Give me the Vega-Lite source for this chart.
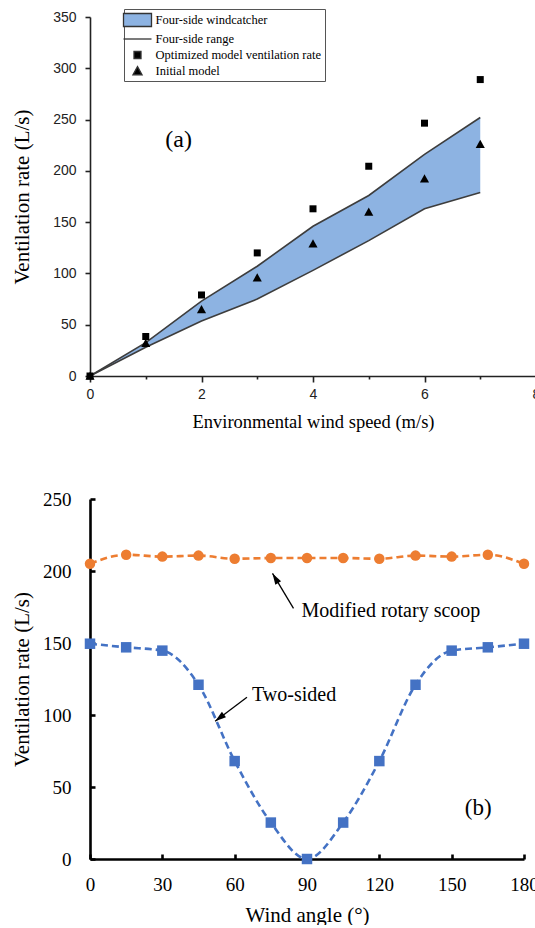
{
  "$schema": "https://vega.github.io/schema/vega-lite/v6.json",
  "background": "white",
  "padding": {"left": 11, "top": 8, "right": 0, "bottom": 0},
  "spacing": 59,
  "resolve": {"scale": {"color": "independent", "shape": "independent"}, "legend": {"color": "independent", "shape": "independent"}},
  "config": {
    "view": {"stroke": null},
    "axis": {"grid": false, "titleFontWeight": "normal", "titleColor": "black", "labelFlush": false, "labelOverlap": false}
  },
  "datasets": {
    "range": [
      {"speed": 0, "lo": 0, "hi": 0},
      {"speed": 1, "lo": 28, "hi": 32.5},
      {"speed": 2, "lo": 53.6, "hi": 73},
      {"speed": 3, "lo": 75, "hi": 107},
      {"speed": 4, "lo": 103, "hi": 146},
      {"speed": 5, "lo": 132, "hi": 176},
      {"speed": 6, "lo": 163, "hi": 216},
      {"speed": 7, "lo": 179, "hi": 252}
    ],
    "pts": [
      {"speed": 0, "value": 0, "series": "Optimized model ventilation rate"},
      {"speed": 1, "value": 38.5, "series": "Optimized model ventilation rate"},
      {"speed": 2, "value": 79, "series": "Optimized model ventilation rate"},
      {"speed": 3, "value": 120, "series": "Optimized model ventilation rate"},
      {"speed": 4, "value": 163, "series": "Optimized model ventilation rate"},
      {"speed": 5, "value": 204.5, "series": "Optimized model ventilation rate"},
      {"speed": 6, "value": 246.5, "series": "Optimized model ventilation rate"},
      {"speed": 7, "value": 289, "series": "Optimized model ventilation rate"},
      {"speed": 0, "value": 0, "series": "Initial model"},
      {"speed": 1, "value": 32, "series": "Initial model"},
      {"speed": 2, "value": 65, "series": "Initial model"},
      {"speed": 3, "value": 96, "series": "Initial model"},
      {"speed": 4, "value": 129, "series": "Initial model"},
      {"speed": 5, "value": 160, "series": "Initial model"},
      {"speed": 6, "value": 192.5, "series": "Initial model"},
      {"speed": 7, "value": 226, "series": "Initial model"}
    ],
    "angles": [
      {"angle": 0, "rate": 205, "series": "Modified rotary scoop"},
      {"angle": 15, "rate": 211.3, "series": "Modified rotary scoop"},
      {"angle": 30, "rate": 210, "series": "Modified rotary scoop"},
      {"angle": 45, "rate": 210.7, "series": "Modified rotary scoop"},
      {"angle": 60, "rate": 208.5, "series": "Modified rotary scoop"},
      {"angle": 75, "rate": 209, "series": "Modified rotary scoop"},
      {"angle": 90, "rate": 209, "series": "Modified rotary scoop"},
      {"angle": 105, "rate": 209, "series": "Modified rotary scoop"},
      {"angle": 120, "rate": 208.5, "series": "Modified rotary scoop"},
      {"angle": 135, "rate": 210.7, "series": "Modified rotary scoop"},
      {"angle": 150, "rate": 210, "series": "Modified rotary scoop"},
      {"angle": 165, "rate": 211.3, "series": "Modified rotary scoop"},
      {"angle": 180, "rate": 205, "series": "Modified rotary scoop"},
      {"angle": 0, "rate": 149.5, "series": "Two-sided"},
      {"angle": 15, "rate": 147, "series": "Two-sided"},
      {"angle": 30, "rate": 144.7, "series": "Two-sided"},
      {"angle": 45, "rate": 121, "series": "Two-sided"},
      {"angle": 60, "rate": 68, "series": "Two-sided"},
      {"angle": 75, "rate": 25.3, "series": "Two-sided"},
      {"angle": 90, "rate": 0, "series": "Two-sided"},
      {"angle": 105, "rate": 25.3, "series": "Two-sided"},
      {"angle": 120, "rate": 68, "series": "Two-sided"},
      {"angle": 135, "rate": 121, "series": "Two-sided"},
      {"angle": 150, "rate": 144.7, "series": "Two-sided"},
      {"angle": 165, "rate": 147, "series": "Two-sided"},
      {"angle": 180, "rate": 149.5, "series": "Two-sided"}
    ]
  },
  "vconcat": [
    {
      "width": 446,
      "height": 359,
      "layer": [
        {
          "data": {"name": "range"},
          "mark": {"type": "area", "color": "#8DB3E2", "opacity": 1},
          "encoding": {
            "x": {
              "field": "speed", "type": "quantitative",
              "scale": {"domain": [0, 8], "nice": false},
              "axis": {
                "title": "Environmental wind speed (m/s)",
                "titleFont": "Liberation Serif", "titleFontSize": 18.5, "titlePadding": 11,
                "values": [0, 1, 2, 3, 4, 5, 6, 7, 8], "format": "d",
                "labelExpr": "datum.value % 2 === 0 ? datum.label : ''",
                "labelFont": "Liberation Sans", "labelFontSize": 14, "labelColor": "#222", "labelPadding": 5,
                "domainColor": "#222", "domainWidth": 1.6,
                "tickColor": "#222", "tickWidth": 1.6,
                "tickSize": {"condition": {"test": "datum.value % 2 === 1", "value": 3}, "value": 6}
              }
            },
            "y": {
              "field": "lo", "type": "quantitative",
              "scale": {"domain": [0, 350], "nice": false},
              "axis": {
                "title": "Ventilation rate (L/s)",
                "titleFont": "Liberation Serif", "titleFontSize": 21, "titlePadding": 20,
                "values": [0, 25, 50, 75, 100, 125, 150, 175, 200, 225, 250, 275, 300, 325, 350], "format": "d",
                "labelExpr": "datum.value % 50 === 0 ? datum.label : ''",
                "labelFont": "Liberation Sans", "labelFontSize": 14, "labelColor": "#222", "labelPadding": 9,
                "domainColor": "#222", "domainWidth": 1.6,
                "tickColor": "#222", "tickWidth": 1.6,
                "tickSize": {"condition": {"test": "datum.value % 50 !== 0", "value": 3}, "value": 5}
              }
            },
            "y2": {"field": "hi"}
          }
        },
        {
          "data": {"name": "range"},
          "mark": {"type": "line", "color": "#3d3d3d", "strokeWidth": 1.6},
          "encoding": {
            "x": {"field": "speed", "type": "quantitative"},
            "y": {"field": "hi", "type": "quantitative"}
          }
        },
        {
          "data": {"name": "range"},
          "mark": {"type": "line", "color": "#3d3d3d", "strokeWidth": 1.6},
          "encoding": {
            "x": {"field": "speed", "type": "quantitative"},
            "y": {"field": "lo", "type": "quantitative"}
          }
        },
        {
          "data": {"name": "pts"},
          "mark": {"type": "point", "filled": true, "opacity": 1, "size": 196, "strokeWidth": 0},
          "encoding": {
            "x": {"field": "speed", "type": "quantitative"},
            "y": {"field": "value", "type": "quantitative"},
            "shape": {
              "field": "series", "type": "nominal",
              "scale": {
                "domain": ["Four-side windcatcher", "Four-side range", "Optimized model ventilation rate", "Initial model"],
                "range": ["M-2,-0.93H2V0.93H-2Z", "M-2,0H2", "M-0.5,-0.5H0.5V0.5H-0.5Z", "M0,-0.62L0.65,0.55H-0.65Z"]
              },
              "legend": {
                "title": null, "orient": "none", "legendX": 34, "legendY": -8,
                "strokeColor": "#555", "fillColor": "white", "padding": 3,
                "symbolSize": 196, "symbolOffset": 2.5, "labelOffset": 10, "rowPadding": 1,
                "labelFont": "Liberation Serif", "labelFontSize": 12.5, "labelColor": "black", "labelLimit": 0,
                "symbolStrokeColor": "#333", "symbolStrokeWidth": 1.3,
                "encode": {"symbols": {"update": {"stroke": {"value": "#333"}, "strokeWidth": {"value": 1.3}}}}
              }
            },
            "color": {
              "field": "series", "type": "nominal",
              "scale": {
                "domain": ["Four-side windcatcher", "Four-side range", "Optimized model ventilation rate", "Initial model"],
                "range": ["#8DB3E2", "transparent", "black", "black"]
              },
              "legend": {
                "title": null, "orient": "none", "legendX": 34, "legendY": -8,
                "strokeColor": "#555", "fillColor": "white", "padding": 3,
                "symbolSize": 196, "symbolOffset": 2.5, "labelOffset": 10, "rowPadding": 1,
                "labelFont": "Liberation Serif", "labelFontSize": 12.5, "labelColor": "black", "labelLimit": 0,
                "symbolStrokeColor": "#333", "symbolStrokeWidth": 1.3,
                "encode": {"symbols": {"update": {"stroke": {"value": "#333"}, "strokeWidth": {"value": 1.3}}}}
              }
            }
          }
        },
        {
          "data": {"values": [{"x": 1.59, "y": 230.5, "label": "(a)"}]},
          "mark": {"type": "text", "font": "Liberation Serif", "fontSize": 24, "color": "black"},
          "encoding": {
            "x": {"field": "x", "type": "quantitative"},
            "y": {"field": "y", "type": "quantitative"},
            "text": {"field": "label"}
          }
        }
      ]
    },
    {
      "width": 434,
      "height": 360,
      "layer": [
        {
          "data": {"name": "angles"},
          "mark": {"type": "line", "interpolate": "monotone", "strokeDash": [7, 4], "strokeWidth": 2.6},
          "encoding": {
            "x": {
              "field": "angle", "type": "quantitative",
              "scale": {"domain": [0, 180], "nice": false},
              "axis": {
                "title": "Wind angle (°)",
                "titleFont": "Liberation Serif", "titleFontSize": 21, "titlePadding": 10,
                "values": [0, 30, 60, 90, 120, 150, 180],
                "labelFont": "Liberation Serif", "labelFontSize": 19, "labelColor": "black", "labelPadding": 21,
                "domainColor": "black", "domainWidth": 2.6,
                "tickColor": "black", "tickWidth": 2.6, "tickSize": -5
              }
            },
            "y": {
              "field": "rate", "type": "quantitative",
              "scale": {"domain": [0, 250], "nice": false},
              "axis": {
                "title": "Ventilation rate (L/s)",
                "titleFont": "Liberation Serif", "titleFontSize": 21, "titlePadding": 10,
                "values": [0, 50, 100, 150, 200, 250],
                "labelFont": "Liberation Serif", "labelFontSize": 19, "labelColor": "black", "labelPadding": 24,
                "domainColor": "black", "domainWidth": 2.6,
                "tickColor": "black", "tickWidth": 2.6, "tickSize": -5
              }
            },
            "color": {
              "field": "series", "type": "nominal",
              "scale": {"domain": ["Modified rotary scoop", "Two-sided"], "range": ["#ED7D31", "#4472C4"]},
              "legend": null
            }
          }
        },
        {
          "data": {"name": "angles"},
          "mark": {"type": "point", "filled": true, "opacity": 1, "size": 110, "strokeWidth": 0},
          "encoding": {
            "x": {"field": "angle", "type": "quantitative"},
            "y": {"field": "rate", "type": "quantitative"},
            "color": {"field": "series", "type": "nominal", "legend": null},
            "shape": {
              "field": "series", "type": "nominal",
              "scale": {"domain": ["Modified rotary scoop", "Two-sided"], "range": ["circle", "square"]},
              "legend": null
            }
          }
        },
        {
          "data": {"values": [{"x": 84.4, "y": 174, "x2": 75.7, "y2": 198.3}, {"x": 65.1, "y": 112.3, "x2": 51.9, "y2": 95.7}]},
          "mark": {"type": "rule", "color": "black", "strokeWidth": 1.3},
          "encoding": {
            "x": {"field": "x", "type": "quantitative"},
            "y": {"field": "y", "type": "quantitative"},
            "x2": {"field": "x2"},
            "y2": {"field": "y2"}
          }
        },
        {
          "data": {"values": [{"x": 75.7, "y": 198.3}]},
          "mark": {"type": "point", "shape": "M0,0L0.55,1.8H-0.55Z", "filled": true, "color": "black", "opacity": 1, "size": 150, "angle": 329},
          "encoding": {
            "x": {"field": "x", "type": "quantitative"},
            "y": {"field": "y", "type": "quantitative"}
          }
        },
        {
          "data": {"values": [{"x": 51.9, "y": 95.7}]},
          "mark": {"type": "point", "shape": "M0,0L0.55,1.8H-0.55Z", "filled": true, "color": "black", "opacity": 1, "size": 150, "angle": 233},
          "encoding": {
            "x": {"field": "x", "type": "quantitative"},
            "y": {"field": "y", "type": "quantitative"}
          }
        },
        {
          "data": {"values": [
            {"x": 87.7, "y": 172, "label": "Modified rotary scoop"},
            {"x": 67.2, "y": 113.7, "label": "Two-sided"}
          ]},
          "mark": {"type": "text", "font": "Liberation Serif", "fontSize": 20, "align": "left", "baseline": "middle", "color": "black"},
          "encoding": {
            "x": {"field": "x", "type": "quantitative"},
            "y": {"field": "y", "type": "quantitative"},
            "text": {"field": "label"}
          }
        },
        {
          "data": {"values": [{"x": 161, "y": 35.4, "label": "(b)"}]},
          "mark": {"type": "text", "font": "Liberation Serif", "fontSize": 23, "align": "center", "baseline": "middle", "color": "black"},
          "encoding": {
            "x": {"field": "x", "type": "quantitative"},
            "y": {"field": "y", "type": "quantitative"},
            "text": {"field": "label"}
          }
        }
      ]
    }
  ]
}
